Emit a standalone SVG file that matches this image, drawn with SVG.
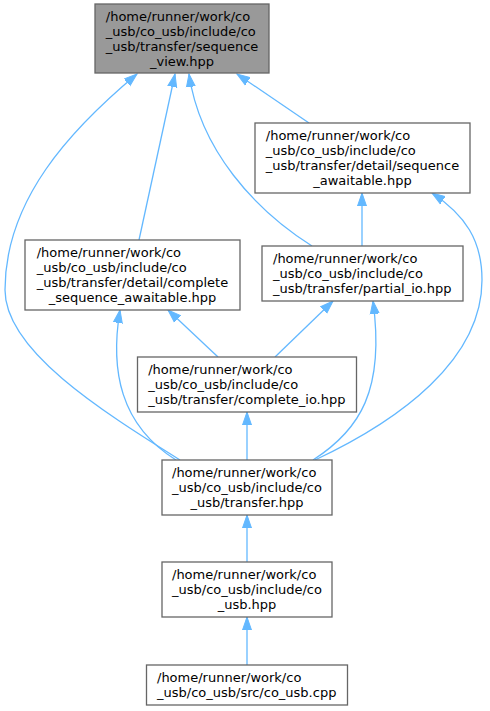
<svg xmlns="http://www.w3.org/2000/svg" width="490" height="711" viewBox="0 0 490 711">
<style>
.box{fill:#ffffff;stroke:#666666;stroke-width:1.3}
.cur{fill:#999999;stroke:#666666;stroke-width:1.3}
text{font-family:"DejaVu Sans",sans-serif;font-size:13px;fill:#000000}
.c{text-anchor:middle}
.e{fill:none;stroke:#63b8ff;stroke-width:1.3;marker-end:url(#ah)}
</style>
<defs>
<marker id="ah" markerUnits="userSpaceOnUse" markerWidth="14" markerHeight="11" refX="13" refY="5.5" orient="auto">
<path d="M0,1 L13,5.5 L0,10 Z" fill="#63b8ff" stroke="#63b8ff" stroke-width="1"/>
</marker>
</defs>
<g id="edges">
<path class="e" d="M309,123 L237,74"/>
<path class="e" d="M139,240 L175,74"/>
<path class="e" d="M312,246 C255,210 200,150 189,74"/>
<path class="e" d="M180,460 C100,410 5,350 5,290 C5,200 70,130 137,74"/>
<path class="e" d="M362,246 L362,193"/>
<path class="e" d="M315,460 C400,420 482,360 482,280 C482,240 465,215 432,193"/>
<path class="e" d="M176,460 C120,425 110,370 120,310"/>
<path class="e" d="M218,357 L168,310"/>
<path class="e" d="M275,357 L333,301"/>
<path class="e" d="M313,460 C360,430 385,390 373,301"/>
<path class="e" d="M247,460 L247,412"/>
<path class="e" d="M247,562 L247,515"/>
<path class="e" d="M247,665 L247,617"/>
</g>
<g id="sequence_view">
<rect class="cur" x="95" y="4" width="174" height="69"/>
<text x="105.8" y="20.5">/home/runner/work/co</text>
<text x="105.8" y="35.5">_usb/co_usb/include/co</text>
<text x="105.8" y="50.5">_usb/transfer/sequence</text>
<text class="c" x="182" y="65.5">_view.hpp</text>
</g>
<g id="sequence_awaitable">
<rect class="box" x="255" y="123" width="215" height="70"/>
<text x="265.8" y="140">/home/runner/work/co</text>
<text x="265.8" y="155">_usb/co_usb/include/co</text>
<text x="265.8" y="170">_usb/transfer/detail/sequence</text>
<text class="c" x="362.5" y="185">_awaitable.hpp</text>
</g>
<g id="complete_sequence_awaitable">
<rect class="box" x="25" y="240" width="215" height="70"/>
<text x="36.7" y="257">/home/runner/work/co</text>
<text x="36.7" y="272">_usb/co_usb/include/co</text>
<text x="36.7" y="287">_usb/transfer/detail/complete</text>
<text class="c" x="132.5" y="302">_sequence_awaitable.hpp</text>
</g>
<g id="partial_io">
<rect class="box" x="262" y="246" width="201" height="55"/>
<text x="273" y="263">/home/runner/work/co</text>
<text x="273" y="278">_usb/co_usb/include/co</text>
<text x="273" y="293">_usb/transfer/partial_io.hpp</text>
</g>
<g id="complete_io">
<rect class="box" x="137.5" y="357" width="219" height="55"/>
<text x="148.2" y="374">/home/runner/work/co</text>
<text x="148.2" y="389">_usb/co_usb/include/co</text>
<text x="148.2" y="404">_usb/transfer/complete_io.hpp</text>
</g>
<g id="transfer">
<rect class="box" x="162" y="460" width="170" height="55"/>
<text x="172" y="477">/home/runner/work/co</text>
<text x="172" y="492">_usb/co_usb/include/co</text>
<text class="c" x="247" y="507">_usb/transfer.hpp</text>
</g>
<g id="co_usb_hpp">
<rect class="box" x="162" y="562" width="170" height="55"/>
<text x="172" y="579">/home/runner/work/co</text>
<text x="172" y="594">_usb/co_usb/include/co</text>
<text class="c" x="247" y="609">_usb.hpp</text>
</g>
<g id="co_usb_cpp">
<rect class="box" x="146.5" y="665" width="201" height="40"/>
<text x="157" y="682">/home/runner/work/co</text>
<text x="157" y="697">_usb/co_usb/src/co_usb.cpp</text>
</g>
</svg>
